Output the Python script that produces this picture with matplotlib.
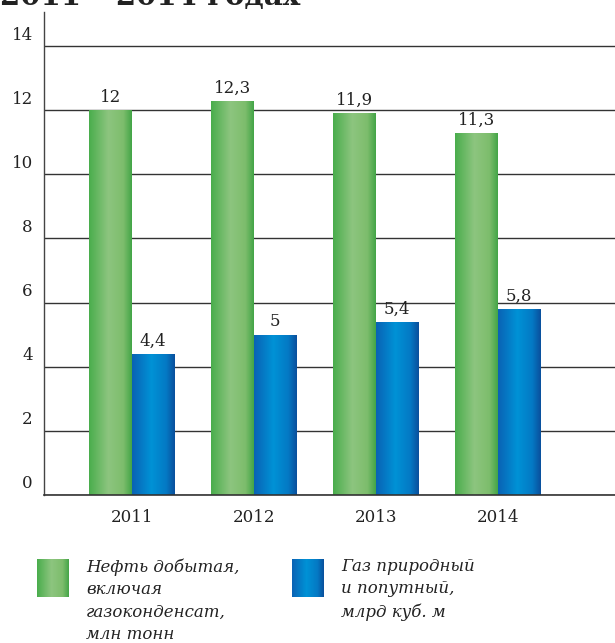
import numpy as np
import matplotlib.pyplot as plt
import matplotlib.transforms as mtransforms
from matplotlib.colors import LinearSegmentedColormap

years = ['2011', '2012', '2013', '2014']
oil = [12, 12.3, 11.9, 11.3]
gas = [4.4, 5, 5.4, 5.8]
oil_labels = ['12', '12,3', '11,9', '11,3']
gas_labels = ['4,4', '5', '5,4', '5,8']
legend_oil = 'Нефть добытая,\nвключая\nгазоконденсат,\nмлн тонн'
legend_gas = 'Газ природный\nи попутный,\nмлрд куб. м'
title = '2011 – 2014 годах'

plt.rcParams['font.family'] = ['DejaVu Serif']

green_cmap = LinearSegmentedColormap.from_list(
    'g', [(0, '#49ad4c'), (0.45, '#8dc57f'), (0.8, '#7dbd6c'), (1, '#43a547')])
blue_cmap = LinearSegmentedColormap.from_list(
    'b', [(0, '#0a62b4'), (0.45, '#0092d6'), (0.8, '#0479c4'), (1, '#0a4f9c')])

fig = plt.figure(figsize=(6.15, 6.43), dpi=100)
ax = fig.add_axes([0.0715, 0.2302, 0.9285, 0.7511])

x = np.arange(len(years))
w = 0.35
grad = np.linspace(0, 1, 256).reshape(1, -1)


def gradient_bars(xs, vals, cmap):
    bars = ax.bar(xs, vals, width=w, color='none', zorder=3)
    for b in bars:
        x0, y0 = b.get_x(), b.get_y()
        im = ax.imshow(grad, cmap=cmap, aspect='auto', zorder=3,
                       extent=[x0, x0 + b.get_width(), y0, y0 + b.get_height()])
        im.set_clip_path(b)
    return bars


gradient_bars(x - w / 2, oil, green_cmap)
gradient_bars(x + w / 2, gas, blue_cmap)

for i in range(len(years)):
    ax.annotate(oil_labels[i], (x[i] - w / 2, oil[i]), xytext=(0, 3),
                textcoords='offset points', ha='center', va='bottom',
                fontsize=12, color='#222222')
    ax.annotate(gas_labels[i], (x[i] + w / 2, gas[i]), xytext=(0, 3),
                textcoords='offset points', ha='center', va='bottom',
                fontsize=12, color='#222222')

ax.set_xlim(-0.72, 3.96)
ax.set_ylim(0, 15.06)
ax.set_yticks(range(0, 15, 2))
ax.set_xticks(x)
ax.set_xticklabels(years)
ax.tick_params(length=0, labelsize=12, colors='#222222')
ax.tick_params(axis='y', pad=8)
ax.tick_params(axis='x', pad=10)
# y labels sit above their gridlines
shift = mtransforms.ScaledTranslation(0, 13 / 100, fig.dpi_scale_trans)
for lbl in ax.get_yticklabels():
    lbl.set_transform(lbl.get_transform() + shift)

ax.grid(axis='y', color='#333333', lw=1, zorder=1)
ax.axhline(0, color='#333333', lw=1.2, zorder=4, clip_on=False)
for s in ['top', 'right', 'bottom']:
    ax.spines[s].set_visible(False)
ax.spines['left'].set_color('#444444')
ax.spines['left'].set_linewidth(1)

fig.text(0.0, 1 - 5 / 643, title, fontsize=21, fontweight='bold', va='baseline',
         ha='left', color='#222222')

# legend
lax = fig.add_axes([37 / 615, 1 - 597 / 643, 32 / 615, 38 / 643])
lax.imshow(grad, cmap=green_cmap, aspect='auto')
lax.axis('off')
lax2 = fig.add_axes([292 / 615, 1 - 597 / 643, 32 / 615, 38 / 643])
lax2.imshow(grad, cmap=blue_cmap, aspect='auto')
lax2.axis('off')

fig.text(86 / 615, 1 - 558 / 643, legend_oil, fontsize=12, style='italic', va='top',
         ha='left', color='#222222', linespacing=1.42)
fig.text(341 / 615, 1 - 558 / 643, legend_gas, fontsize=12, style='italic', va='top',
         ha='left', color='#222222', linespacing=1.42)

fig.savefig('out.png', dpi=100)
